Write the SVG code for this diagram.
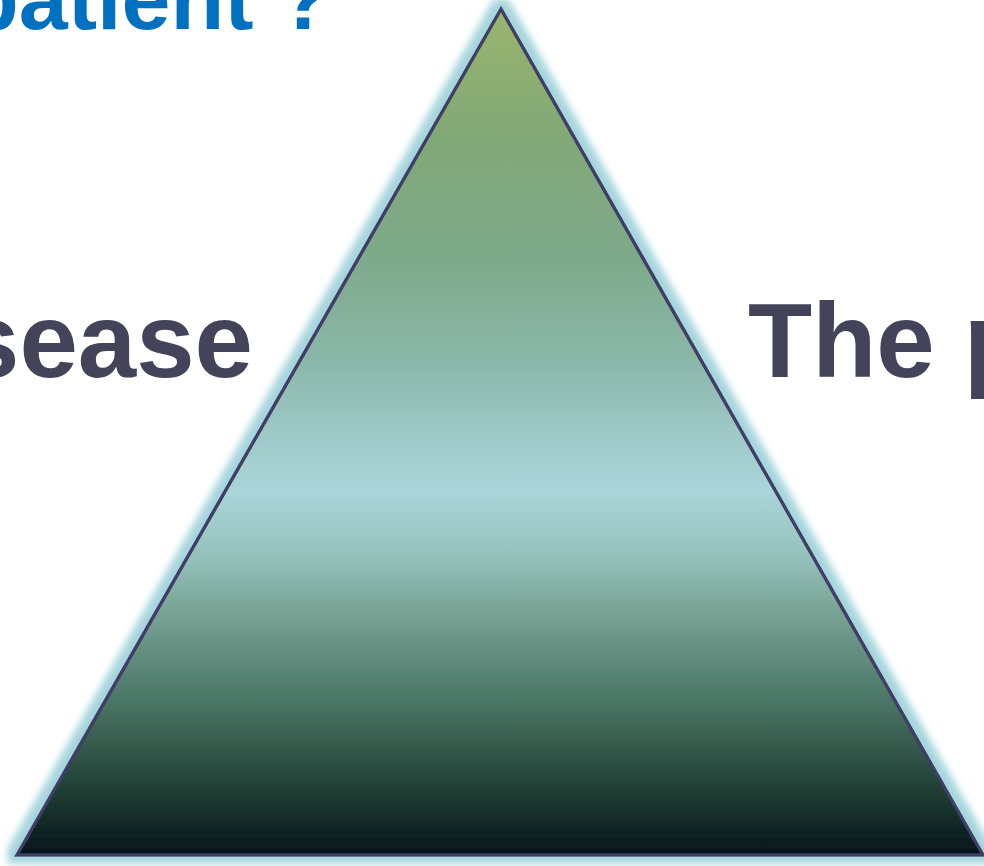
<svg xmlns="http://www.w3.org/2000/svg" width="984" height="866" viewBox="0 0 984 866">
  <style>
    .label { font-family: "Liberation Sans", Arial, sans-serif; font-weight: bold; }
    .dark { fill: #43435a; font-size: 105px; }
    .blue { fill: #0070c0; font-size: 88px; }
  </style>
  <defs>
    <linearGradient id="pyramidFill" x1="0" y1="10" x2="0" y2="855" gradientUnits="userSpaceOnUse">
      <stop offset="0" stop-color="#9ab56c"/>
      <stop offset="0.15" stop-color="#82a877"/>
      <stop offset="0.3" stop-color="#7eaa8c"/>
      <stop offset="0.42" stop-color="#8cb8ab"/>
      <stop offset="0.5" stop-color="#9dc8c6"/>
      <stop offset="0.57" stop-color="#aad5d9"/>
      <stop offset="0.65" stop-color="#94c0ba"/>
      <stop offset="0.7" stop-color="#7da89a"/>
      <stop offset="0.82" stop-color="#4a7565"/>
      <stop offset="0.93" stop-color="#1d3b31"/>
      <stop offset="1" stop-color="#04151a"/>
    </linearGradient>
    <!-- soft light-blue halo around the pyramid -->
    <filter id="outerGlow" x="-10%" y="-10%" width="120%" height="120%">
      <feMorphology in="SourceAlpha" operator="dilate" radius="7" result="grown"/>
      <feGaussianBlur in="grown" stdDeviation="3.5" result="soft"/>
      <feFlood flood-color="#a6d5dc"/>
      <feComposite in2="soft" operator="in" result="glow"/>
      <feMerge>
        <feMergeNode in="glow"/>
        <feMergeNode in="SourceGraphic"/>
      </feMerge>
    </filter>
  </defs>

  <rect width="984" height="866" fill="#ffffff"/>

  <!-- pyramid -->
  <g id="pyramid" filter="url(#outerGlow)">
    <polygon points="501,9 17,855 983,855" fill="url(#pyramidFill)" stroke="#3f3c66" stroke-width="3.5" stroke-linejoin="miter"/>
  </g>

  <!-- labels -->
  <g id="title">
    <text class="label blue" x="-35" y="29">patient ?</text>
  </g>
  <g id="label-disease">
    <text class="label dark" x="253" y="377" text-anchor="end">Disease</text>
  </g>
  <g id="label-patient">
    <text class="label dark" x="748" y="377">The patient</text>
  </g>
</svg>
